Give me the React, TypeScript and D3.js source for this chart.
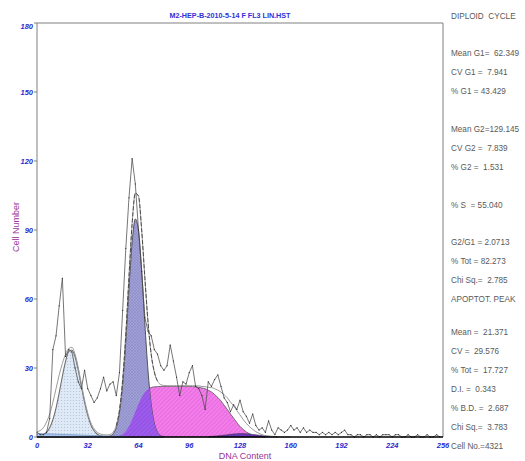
import React, { useEffect, useRef } from 'react';
import * as d3 from 'd3';

const title = 'M2-HEP-B-2010-5-14 F FL3 LIN.HST';
const xLabel = 'DNA Content';
const yLabel = 'Cell Number';
const xTicks = [0, 32, 64, 96, 128, 160, 192, 224, 256];
const yTicks = [0, 30, 60, 90, 120, 150, 180];

// every series below: one value per 2 channels, starting at its *Start channel
const binStep = 2;

const rawStart = 0;
const rawCounts = [
  2, 1, 1, 2, 8, 38, 44, 57, 69, 35, 38, 37, 30, 24, 21, 29, 21, 18, 15, 17,
  21, 26, 20, 23, 24, 18, 28, 55, 82, 104, 121, 110, 90, 72, 52, 46, 44, 38, 36, 31,
  29, 31, 40, 33, 26, 18, 24, 23, 28, 31, 22, 21, 18, 12, 24, 22, 25, 27, 22, 17,
  15, 11, 14, 12, 16, 11, 9, 6, 10, 5, 3, 4, 2, 7, 3, 1, 4, 3, 2, 3,
  5, 3, 4, 2, 4, 2, 3, 2, 2, 1, 2, 1, 2, 1, 2, 1, 2, 3, 1, 1,
  0, 1, 1, 0, 1, 1, 0, 1, 0, 1, 1, 1, 0, 1, 1, 0, 0, 1, 0, 0,
  1, 0, 0, 1, 0, 0, 1, 0,
];

const fitStart = 0;
const fitTotal = [
  2.3, 2.8, 4, 6.5, 10, 15, 21, 27, 32, 36, 38.5, 39, 36, 30.2, 23, 16.1, 10.4, 6.1, 3.6, 2,
  1.3, 1, 0.9, 1.1, 2.1, 5, 11.7, 24.6, 44.7, 69.8, 93, 106, 104.7, 90, 69.3, 50, 36, 28.2, 24.3, 22.8,
  22.4, 22.3, 22.3, 22.3, 22.3, 22.3, 22.3, 22.3, 22.3, 22.3, 22.3, 22.2, 22, 21.9, 21.6, 21.5, 21, 20.4, 19.5, 18.4,
  17, 15.2, 13.5, 11.5, 9.6, 7.6, 5.9, 4.5, 3.3, 2.3, 1.6, 1, 0.6, 0.4, 0.2, 0.1, 0, 0, 0, 0, 0,
];

const debrisStart = 0;
const debrisFit = [
  1.6, 1.5, 1.45, 1.4, 1.35, 1.3, 1.25, 1.2, 1.15, 1.1, 1.05, 1, 0.95, 0.9, 0.85, 0.8,
  0.75, 0.7, 0.65, 0.6, 0.55, 0.5, 0.5, 0.45, 0.4, 0.4, 0.35, 0.3, 0.3,
];

const apoptoticStart = 0;
const apoptoticFit = [
  0.1, 0.3, 0.9, 2, 4, 7.5, 12.6, 19.2, 26.4, 32.9, 37.1, 37.8, 34.9, 29.2, 22, 15.1,
  9.4, 5.2, 2.7, 1.2, 0.5, 0.2, 0.1,
];

const g1Start = 44;
const g1Fit = [
  0.1, 0.4, 1.4, 4.2, 10.6, 22.9, 41.7, 64.6, 84.9, 94.8, 89.9, 72.4, 49.5, 28.8, 14.2, 6, 2.1, 0.6, 0.2,
];

const sStart = 48;
const sPhaseFit = [
  0, 0.2, 0.5, 1.2, 2.5, 4.7, 7.6, 11, 14.4, 17.3, 19.5, 20.8, 21.5, 21.8, 21.9, 22, 22, 22, 22, 22,
  22, 22, 22, 22, 22, 21.9, 21.8, 21.6, 21.3, 21, 20.3, 19.6, 18.5, 17.2, 15.7, 13.8, 12, 10, 8.2, 6.3,
  4.6, 3.3, 2.2, 1.4, 0.8, 0.4, 0.2, 0.1, 0,
];

const g2Start = 108;
const g2Fit = [
  0, 0.3, 0.4, 0.5, 0.7, 0.8, 1, 1.2, 1.3, 1.4, 1.5, 1.5, 1.4, 1.3, 1.1, 1, 0.8, 0.7, 0.5, 0.4, 0.3, 0.2, 0,
];

const statLines = [
  'DIPLOID  CYCLE',
  'Mean G1=  62.349',
  'CV G1 =  7.941',
  '% G1 = 43.429',
  'Mean G2=129.145',
  'CV G2 =  7.839',
  '% G2 =  1.531',
  '% S  = 55.040',
  'G2/G1 = 2.0713',
  '% Tot = 82.273',
  'Chi Sq.=  2.785',
  'APOPTOT. PEAK',
  'Mean =  21.371',
  'CV =  29.576',
  '% Tot =  17.727',
  'D.I. =  0.343',
  '% B.D. =  2.687',
  'Chi Sq.=  3.783',
  'Cell No.=4321',
];

// layout
const W = 525;
const H = 461;
const left = 37, right = 443, top = 23, bottom = 437;
const statRowY = [16, 53, 72, 91, 129, 148, 167, 205, 242, 261, 280, 299, 332, 351, 370, 389, 408, 427, 446];

const toPoints = (start: number, values: number[]) =>
  values.map((v, i) => ({ c: start + i * binStep, v }));

export default function App() {
  const ref = useRef<SVGSVGElement>(null);

  useEffect(() => {
    const svg = d3.select(ref.current);
    svg.selectAll('*').remove();

    const x = d3.scaleLinear().domain([0, 256]).range([left, right]);
    const y = d3.scaleLinear().domain([0, 180]).range([bottom, top]);

    const defs = svg.append('defs');
    const dots = defs.append('pattern').attr('id', 'dots').attr('width', 3).attr('height', 3)
      .attr('patternUnits', 'userSpaceOnUse');
    dots.append('rect').attr('width', 3).attr('height', 3).attr('fill', '#dfeaf6');
    dots.append('circle').attr('cx', 1.5).attr('cy', 1.5).attr('r', 0.55).attr('fill', '#a8c0dc');

    const cross = defs.append('pattern').attr('id', 'cross').attr('width', 3).attr('height', 3)
      .attr('patternUnits', 'userSpaceOnUse');
    cross.append('rect').attr('width', 3).attr('height', 3).attr('fill', '#a0a0d6');
    cross.append('path').attr('d', 'M0,0L3,3M3,0L0,3').attr('stroke', '#8484c0').attr('stroke-width', 0.4);

    const hatch = defs.append('pattern').attr('id', 'hatch').attr('width', 3).attr('height', 3)
      .attr('patternUnits', 'userSpaceOnUse').attr('patternTransform', 'rotate(45)');
    hatch.append('rect').attr('width', 3).attr('height', 3).attr('fill', '#f37ee9');
    hatch.append('line').attr('x1', 0).attr('y1', 0).attr('x2', 0).attr('y2', 3)
      .attr('stroke', '#d84fd6').attr('stroke-width', 0.9);

    const hatch2 = defs.append('pattern').attr('id', 'hatch2').attr('width', 3).attr('height', 3)
      .attr('patternUnits', 'userSpaceOnUse').attr('patternTransform', 'rotate(45)');
    hatch2.append('rect').attr('width', 3).attr('height', 3).attr('fill', '#9e5cec');
    hatch2.append('line').attr('x1', 0).attr('y1', 0).attr('x2', 0).attr('y2', 3)
      .attr('stroke', '#8040d0').attr('stroke-width', 0.9);

    const area = d3.area<{ c: number; v: number }>()
      .x(d => x(d.c)).y0(y(0)).y1(d => y(d.v)).curve(d3.curveMonotoneX);
    const line = d3.line<{ c: number; v: number }>()
      .x(d => x(d.c)).y(d => y(d.v)).curve(d3.curveMonotoneX);

    const g1Pts = toPoints(g1Start, g1Fit);
    defs.append('clipPath').attr('id', 'g1clip').append('path').attr('d', area(g1Pts));

    // fitted components
    svg.append('path').attr('d', area(toPoints(apoptoticStart, apoptoticFit)))
      .attr('fill', 'url(#dots)').attr('stroke', '#6f6f6f').attr('stroke-width', 1.1);
    svg.append('path').attr('d', area(toPoints(sStart, sPhaseFit)))
      .attr('fill', 'url(#hatch)').attr('stroke', '#555').attr('stroke-width', 0.8);
    svg.append('path').attr('d', area(g1Pts))
      .attr('fill', 'url(#cross)').attr('stroke', '#333').attr('stroke-width', 0.8);
    svg.append('path').attr('d', area(toPoints(sStart, sPhaseFit)))
      .attr('clip-path', 'url(#g1clip)').attr('fill', 'url(#hatch2)');
    svg.append('path').attr('d', area(toPoints(g2Start, g2Fit)))
      .attr('fill', '#6a35b8').attr('stroke', '#333').attr('stroke-width', 0.5);
    svg.append('path').attr('d', area(toPoints(debrisStart, debrisFit)))
      .attr('fill', '#a9c6ee').attr('stroke', '#5f7fb5').attr('stroke-width', 0.6);

    // total fit, dashed around G1
    const fitPts = toPoints(fitStart, fitTotal);
    svg.append('path').attr('d', line(fitPts)).attr('fill', 'none')
      .attr('stroke', '#9a9a9a').attr('stroke-width', 1);
    svg.append('path').attr('d', line(fitPts.filter(d => d.c >= 50 && d.c <= 76))).attr('fill', 'none')
      .attr('stroke', '#333').attr('stroke-width', 0.8).attr('stroke-dasharray', '4,2');

    // raw histogram
    const rawPts = toPoints(rawStart, rawCounts);
    const rawLine = d3.line<{ c: number; v: number }>().x(d => x(d.c)).y(d => y(d.v));
    svg.append('path').attr('d', rawLine(rawPts)).attr('fill', 'none')
      .attr('stroke', '#4a4a4a').attr('stroke-width', 0.75);
    svg.append('g').selectAll('rect').data(rawPts).join('rect')
      .attr('x', d => x(d.c) - 0.5).attr('y', d => y(d.v) - 0.5)
      .attr('width', 1).attr('height', 1).attr('fill', '#222');

    // frame
    svg.append('path').attr('d', `M${left},${bottom}V${top}H${right}V${bottom}`)
      .attr('fill', 'none').attr('stroke', '#808080').attr('stroke-width', 1);
    svg.append('line').attr('x1', left).attr('x2', right).attr('y1', bottom).attr('y2', bottom)
      .attr('stroke', '#000').attr('stroke-width', 1.6);

    const tickFont = (s: d3.Selection<SVGTextElement, number, SVGGElement, unknown>) =>
      s.attr('fill', '#2a2ad0').attr('font-family', 'Liberation Sans, Arial, sans-serif')
        .attr('font-size', 7.5).attr('font-weight', 'bold').attr('font-style', 'italic');

    const yAxis = svg.append('g');
    yAxis.selectAll('line').data(yTicks).join('line')
      .attr('x1', left - 3).attr('x2', left).attr('y1', d => y(d)).attr('y2', d => y(d))
      .attr('stroke', '#808080');
    yAxis.selectAll('text').data(yTicks).join('text')
      .attr('x', left - 4).attr('y', d => Math.max(y(d) + 2.5, top + 6))
      .attr('text-anchor', 'end').text(d => d).call(tickFont);

    const xAxis = svg.append('g');
    xAxis.selectAll('text').data(xTicks).join('text')
      .attr('x', d => x(d)).attr('y', bottom + 11)
      .attr('text-anchor', 'middle').text(d => d).call(tickFont);

    svg.append('text').attr('x', 230).attr('y', 18).attr('text-anchor', 'middle')
      .attr('fill', '#3030d8').attr('font-family', 'Liberation Sans, Arial, sans-serif')
      .attr('font-size', 7.2).attr('font-weight', 'bold').text(title);

    svg.append('text').attr('x', 245).attr('y', 459).attr('text-anchor', 'middle')
      .attr('fill', '#993399').attr('font-family', 'Liberation Sans, Arial, sans-serif')
      .attr('font-size', 9).text(xLabel);
    svg.append('text').attr('transform', 'translate(19,227) rotate(-90)').attr('text-anchor', 'middle')
      .attr('fill', '#993399').attr('font-family', 'Liberation Sans, Arial, sans-serif')
      .attr('font-size', 9).text(yLabel);

    svg.append('g').selectAll('text').data(statLines).join('text')
      .attr('x', 451).attr('y', (d, i) => statRowY[i] + 3)
      .attr('fill', '#5a5a5a').attr('font-family', 'Liberation Sans, Arial, sans-serif')
      .attr('font-size', 8.2).style('white-space', 'pre').text(d => d);
  }, []);

  return (
    <svg ref={ref} width={W} height={H}
      style={{ position: 'absolute', left: 0, top: 0, background: '#fff' }} />
  );
}
